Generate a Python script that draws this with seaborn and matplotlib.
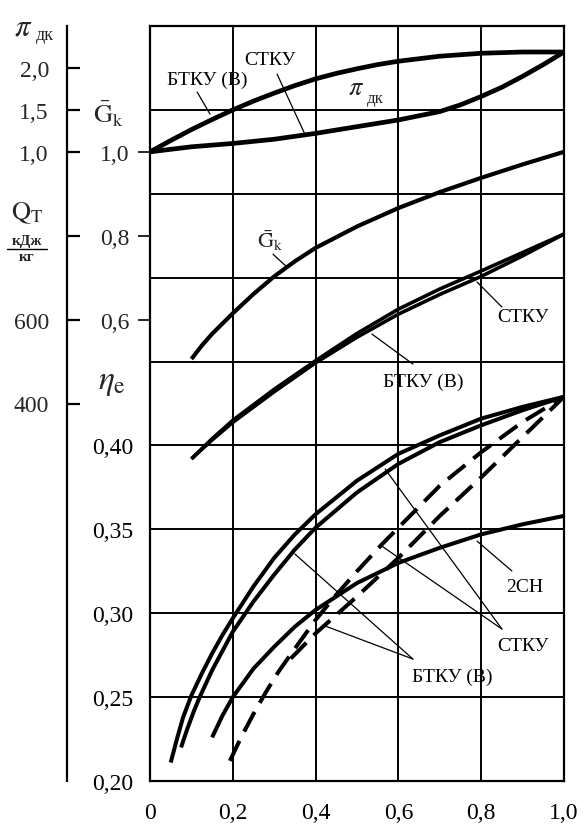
import numpy as np
import matplotlib
matplotlib.use("Agg")
import matplotlib.pyplot as plt
import seaborn as sns

# --- data ---
# pressure ratio pi_dk
x_pi = [0.0, 0.05, 0.1, 0.15, 0.2, 0.25, 0.3, 0.35, 0.4, 0.45, 0.5, 0.55, 0.6, 0.7, 0.8, 0.9, 1.0]
pi_btku = [1.0, 1.135, 1.265, 1.385, 1.50, 1.605, 1.70, 1.79, 1.87, 1.935, 1.99, 2.04, 2.08, 2.14, 2.175, 2.19, 2.19]
x_pi_s = [0.0, 0.1, 0.2, 0.3, 0.4, 0.5, 0.6, 0.7, 0.75, 0.8, 0.85, 0.9, 0.95, 1.0]
pi_stku = [1.0, 1.06, 1.10, 1.15, 1.22, 1.30, 1.38, 1.48, 1.56, 1.66, 1.77, 1.90, 2.04, 2.19]

# relative flow G_k
x_g = [0.1, 0.125, 0.15, 0.2, 0.25, 0.3, 0.35, 0.4, 0.5, 0.6, 0.7, 0.8, 0.9, 1.0]
g_k = [0.506, 0.538, 0.566, 0.615, 0.661, 0.703, 0.739, 0.771, 0.822, 0.866, 0.904, 0.938, 0.97, 1.0]

# heat Q_T, kJ/kg
x_q = [0.1, 0.15, 0.2, 0.3, 0.4, 0.5, 0.6, 0.7, 0.8, 0.9, 1.0]
q_btku = [268, 316, 360, 434, 502, 567, 625, 673, 716, 760, 804]
q_stku = [268, 313, 355, 428, 497, 558, 613, 660, 703, 752, 804]

# efficiency eta_e
x_eta_1 = [0.05, 0.065, 0.08, 0.1, 0.125, 0.15, 0.175, 0.2, 0.25, 0.3, 0.35, 0.4, 0.5, 0.6, 0.7, 0.8, 0.9, 1.0]
eta_1 = [0.211, 0.225, 0.238, 0.251, 0.264, 0.276, 0.287, 0.297, 0.316, 0.333, 0.347, 0.359, 0.379, 0.395, 0.406, 0.416, 0.423, 0.429]
x_eta_2 = [0.075, 0.09, 0.105, 0.12, 0.15, 0.2, 0.25, 0.3, 0.35, 0.4, 0.5, 0.6, 0.7, 0.8, 0.9, 1.0]
eta_2 = [0.220, 0.231, 0.241, 0.250, 0.266, 0.289, 0.307, 0.323, 0.338, 0.351, 0.372, 0.389, 0.402, 0.412, 0.421, 0.429]
x_2ch = [0.15, 0.175, 0.2, 0.25, 0.3, 0.35, 0.4, 0.5, 0.6, 0.7, 0.8, 0.9, 1.0]
eta_2ch = [0.226, 0.239, 0.250, 0.267, 0.280, 0.292, 0.302, 0.318, 0.330, 0.339, 0.347, 0.353, 0.358]
x_dash_1 = [0.193, 0.22, 0.25, 0.28, 0.31, 0.35, 0.4, 0.45, 0.5, 0.56, 0.6, 0.7, 0.8, 0.9, 1.0]
eta_dash_1 = [0.212, 0.226, 0.240, 0.253, 0.265, 0.279, 0.296, 0.311, 0.325, 0.341, 0.351, 0.376, 0.396, 0.414, 0.429]
x_dash_2 = [0.34, 0.4, 0.45, 0.5, 0.6, 0.7, 0.8, 0.9, 1.0]
eta_dash_2 = [0.273, 0.288, 0.299, 0.310, 0.333, 0.358, 0.381, 0.405, 0.429]

x_ticks = [0.0, 0.2, 0.4, 0.6, 0.8, 1.0]
x_labels = ["0", "0,2", "0,4", "0,6", "0,8", "1,0"]
eta_ticks = [0.20, 0.25, 0.30, 0.35, 0.40, 0.45, 0.50, 0.55, 0.60, 0.65]
eta_labels = ["0,20", "0,25", "0,30", "0,35", "0,40", "", "", "", "", ""]
g_ticks = [0.6, 0.8, 1.0]
g_labels = ["0,6", "0,8", "1,0"]
pi_ticks = [1.0, 1.5, 2.0]
pi_labels = ["1,0", "1,5", "2,0"]
q_ticks = [400, 600, 800]
q_labels = ["400", "600", ""]

sns.set_style("white")
plt.rcParams["font.family"] = ["Liberation Serif", "DejaVu Serif"]
plt.rcParams["mathtext.fontset"] = "stix"

W, H = 586, 829
fig = plt.figure(figsize=(W / 100, H / 100), dpi=100)
ax = fig.add_axes([150 / W, (H - 782) / H, 414 / W, 755 / H])


def fig_text(x, y, s, size, **kw):
    # position given in picture pixels
    fig.text(x / W, 1 - y / H, s, fontsize=size, ha="center", va="center", **kw)


def curve(axis, x, y, lw=3.0, ls="-"):
    sns.lineplot(x=x, y=y, ax=axis, color="black", lw=lw, linestyle=ls,
                 sort=False, estimator=None, solid_capstyle="butt",
                 dash_capstyle="butt", solid_joinstyle="round")


ax_g = ax.twinx()
ax_pi = ax.twinx()
ax_q = ax.twinx()

# curves
curve(ax_pi, x_pi, pi_btku, lw=3.4)
curve(ax_pi, x_pi_s, pi_stku, lw=3.4)
curve(ax_g, x_g, g_k, lw=3.0)
curve(ax_q, x_q, q_btku, lw=2.6)
curve(ax_q, x_q, q_stku, lw=2.6)
curve(ax, x_eta_1, eta_1, lw=2.9)
curve(ax, x_eta_2, eta_2, lw=2.9)
curve(ax, x_2ch, eta_2ch, lw=2.9)
curve(ax, x_dash_1, eta_dash_1, lw=2.9, ls=(0, (5.5, 2.6)))
curve(ax, x_dash_2, eta_dash_2, lw=2.9, ls=(0, (5.5, 2.6)))

# main (eta) axes with grid
ax.set_xlim(0, 1)
ax.set_ylim(0.20, 0.65)
ax.set_xticks(x_ticks)
ax.set_xticklabels(x_labels)
ax.set_yticks(eta_ticks)
ax.set_yticklabels(eta_labels)
ax.grid(True, color="black", lw=1.4)
ax.tick_params(axis="both", length=0, labelsize=17, colors="black")
ax.tick_params(axis="x", pad=15)
ax.tick_params(axis="y", pad=12)
for s in ax.spines.values():
    s.set_color("black")
    s.set_linewidth(1.6)

# G_k scale, ticks on left of the box
ax_g.set_ylim(-0.5, 1.3)
ax_g.yaxis.tick_left()
ax_g.set_yticks(g_ticks)
ax_g.set_yticklabels(g_labels)
ax_g.tick_params(axis="y", direction="out", length=9, width=1.4, pad=6, labelsize=17)

# far-left axis: pi_dk and Q_T
ax_pi.set_ylim(-6.5, 2.5)
ax_q.set_ylim(-500, 1300)
for a in (ax_pi, ax_q):
    a.yaxis.tick_left()
    a.spines["left"].set_position(("outward", 59.8))
    a.tick_params(axis="y", direction="in", length=9, width=1.6, pad=13, labelsize=17,
                  color="black")
ax_pi.set_yticks(pi_ticks)
ax_pi.set_yticklabels(pi_labels)
ax_q.set_yticks(q_ticks)
ax_q.set_yticklabels(q_labels)

for a in (ax_g, ax_pi, ax_q):
    for name, s in a.spines.items():
        s.set_visible(False)
    a.set_ylabel("")
ax_pi.spines["left"].set_visible(True)
ax_pi.spines["left"].set_linewidth(1.6)
ax_pi.spines["left"].set_color("black")

# left axis titles
fig_text(23, 28, r"$\pi$", 22)
fig_text(45, 35, "дк", 13)
fig_text(108, 114, r"$\bar{\mathrm{G}}_{\mathrm{k}}$", 19)
fig_text(27, 213, r"$\mathrm{Q}_{\mathrm{T}}$", 19)
fig_text(27, 242, "кДж", 11, fontweight="bold")
fig_text(27, 258, "кг", 11, fontweight="bold")
fig.add_artist(plt.Line2D([7 / W, 47 / W], [1 - 250 / H, 1 - 250 / H], color="black", lw=1.0))
fig_text(112, 383, r"$\eta_{\mathrm{e}}$", 24)

# labels inside the chart (eta-axis data coordinates)
lab = dict(fontsize=14, ha="center", va="center", color="black")
lead = dict(arrowstyle="-", lw=0.9, color="black", shrinkA=0, shrinkB=0)

ax.text(0.290, 0.630, "СТКУ", **lab)
ax.annotate("", xy=(0.374, 0.5856), xytext=(0.307, 0.6213), arrowprops=lead)
ax.text(0.138, 0.6184, "БТКУ (В)", **lab)
ax.annotate("", xy=(0.145, 0.5975), xytext=(0.114, 0.6106), arrowprops=lead)
ax.text(0.497, 0.6130, r"$\pi$", fontsize=19, ha="center", va="center")
ax.text(0.545, 0.6070, "дк", fontsize=12, ha="center", va="center")

ax.text(0.290, 0.5225, r"$\bar{\mathrm{G}}_{\mathrm{k}}$", fontsize=16, ha="center", va="center")
ax.annotate("", xy=(0.331, 0.5063), xytext=(0.297, 0.5140), arrowprops=lead)

ax.text(0.901, 0.4771, "СТКУ", **lab)
ax.annotate("", xy=(0.790, 0.4974), xytext=(0.850, 0.4825), arrowprops=lead)
ax.text(0.659, 0.4384, "БТКУ (В)", **lab)
ax.annotate("", xy=(0.536, 0.4664), xytext=(0.635, 0.4485), arrowprops=lead)

ax.text(0.906, 0.3162, "2СН", **lab)
ax.annotate("", xy=(0.790, 0.3430), xytext=(0.874, 0.3252), arrowprops=lead)

ax.text(0.901, 0.2805, "СТКУ", **lab)
ax.annotate("", xy=(0.568, 0.3859), xytext=(0.850, 0.2906), arrowprops=lead)
ax.annotate("", xy=(0.560, 0.3400), xytext=(0.850, 0.2906), arrowprops=lead)
ax.text(0.729, 0.2626, "БТКУ (В)", **lab)
ax.annotate("", xy=(0.350, 0.3353), xytext=(0.635, 0.2727), arrowprops=lead)
ax.annotate("", xy=(0.423, 0.2924), xytext=(0.635, 0.2727), arrowprops=lead)

fig.savefig("out.png", dpi=100)
